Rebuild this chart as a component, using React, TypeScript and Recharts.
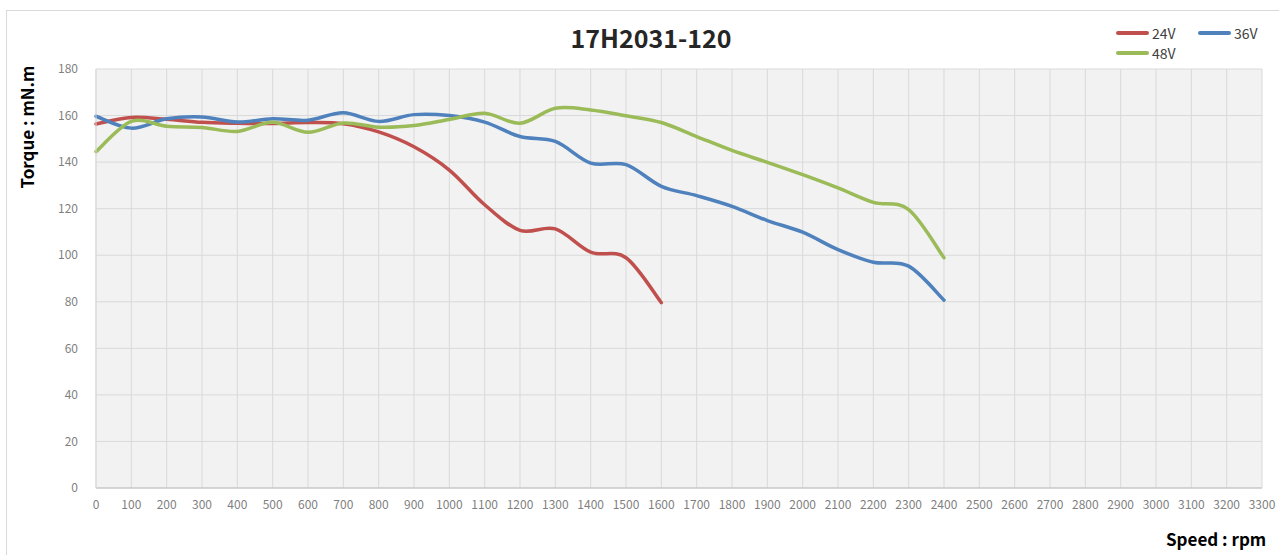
import React from 'react';
import { LineChart, Line, XAxis, YAxis, CartesianGrid } from 'recharts';

const speeds = [0, 100, 200, 300, 400, 500, 600, 700, 800, 900, 1000, 1100, 1200, 1300, 1400, 1500, 1600, 1700, 1800, 1900, 2000, 2100, 2200, 2300, 2400];
const torque24V = [156.4, 159.2, 158.4, 157.1, 156.7, 156.6, 157, 156.5, 153, 146.6, 136.6, 121.7, 110.7, 111.3, 101.3, 98.9, 79.6];
const torque36V = [159.7, 154.6, 158.6, 159.4, 157.2, 158.6, 158, 161.2, 157.5, 160.4, 160, 157.2, 151, 148.9, 139.6, 138.9, 129.6, 125.6, 121, 114.9, 109.9, 102.4, 97, 95.3, 80.7];
const torque48V = [144.5, 157.5, 155.4, 154.9, 153.2, 157.1, 152.8, 156.8, 155, 155.7, 158.3, 161, 156.7, 163.1, 162.4, 159.9, 157, 151, 145, 139.9, 134.6, 128.9, 122.7, 119.6, 98.9];

const xTicks = [0, 100, 200, 300, 400, 500, 600, 700, 800, 900, 1000, 1100, 1200, 1300, 1400, 1500, 1600, 1700, 1800, 1900, 2000, 2100, 2200, 2300, 2400, 2500, 2600, 2700, 2800, 2900, 3000, 3100, 3200, 3300];
const yTicks = [0, 20, 40, 60, 80, 100, 120, 140, 160, 180];

const seriesDefs = [
  { key: 'v24', name: '24V', color: '#C0504D', values: torque24V },
  { key: 'v36', name: '36V', color: '#4F81BD', values: torque36V },
  { key: 'v48', name: '48V', color: '#9BBB59', values: torque48V },
];

const data = speeds.map((s, i) => {
  const row: any = { speed: s };
  seriesDefs.forEach((d) => {
    if (i < d.values.length) row[d.key] = d.values[i];
  });
  return row;
});

// Catmull-Rom style smoothing similar to Excel's smoothed lines
function excelCurve(context: any) {
  let pts: [number, number][] = [];
  return {
    areaStart() {},
    areaEnd() {},
    lineStart() { pts = []; },
    point(x: number, y: number) { pts.push([+x, +y]); },
    lineEnd() {
      if (!pts.length) return;
      context.moveTo(pts[0][0], pts[0][1]);
      for (let i = 0; i < pts.length - 1; i++) {
        const p0 = pts[i - 1] || pts[i];
        const p1 = pts[i];
        const p2 = pts[i + 1];
        const p3 = pts[i + 2] || pts[i + 1];
        const c1x = p1[0] + (p2[0] - p0[0]) / 6;
        const c1y = p1[1] + (p2[1] - p0[1]) / 6;
        const c2x = p2[0] - (p3[0] - p1[0]) / 6;
        const c2y = p2[1] - (p3[1] - p1[1]) / 6;
        context.bezierCurveTo(c1x, c1y, c2x, c2y, p2[0], p2[1]);
      }
    },
  };
}

const FONT = '"Noto Sans CJK SC", "Noto Sans", sans-serif';

function LegendBox() {
  return (
    <div style={{ position: 'absolute', left: 1116, top: 24, width: 170, height: 44, fontFamily: FONT, fontSize: 14, color: '#404040' }}>
      {seriesDefs.map((d, i) => {
        const left = i === 1 ? 82 : 0;
        const top = i === 2 ? 20 : 0;
        return (
          <div key={d.key} style={{ position: 'absolute', left, top, display: 'flex', alignItems: 'center', height: 18 }}>
            <div style={{ width: 33, height: 3.5, background: d.color, borderRadius: 2, marginRight: 3 }} />
            <span>{d.name}</span>
          </div>
        );
      })}
    </div>
  );
}

export default function App() {
  return (
    <div style={{ position: 'absolute', left: 0, top: 0, width: 1279, height: 555, background: '#fff', overflow: 'hidden' }}>
      <div style={{ position: 'absolute', left: 6, top: 10, width: 1290, height: 560, border: '1px solid #D9D9D9', boxSizing: 'border-box' }} />
      <div style={{ position: 'absolute', left: 0, top: 21, width: 1302, textAlign: 'center', fontFamily: FONT, fontWeight: 700, fontSize: 25, color: '#262626', lineHeight: '32px' }}>
        17H2031-120
      </div>
      <div style={{ position: 'absolute', left: 1166, top: 527, fontFamily: FONT, fontWeight: 700, fontSize: 17, color: '#000', lineHeight: '24px', whiteSpace: 'nowrap' }}>
        Speed : rpm
      </div>
      <div style={{ position: 'absolute', left: 27, top: 127, transform: 'translate(-50%, -50%) rotate(-90deg)', fontFamily: FONT, fontWeight: 700, fontSize: 17, color: '#000', lineHeight: '24px', whiteSpace: 'nowrap' }}>
        Torque : mN.m
      </div>
      <LegendBox />
      <div style={{ position: 'absolute', left: 0, top: 0 }}>
        <LineChart width={1279} height={555} data={data} margin={{ top: 69, right: 17, bottom: 37, left: 0 }}>
          <CartesianGrid fill="#F2F2F2" stroke="#D9D9D9" strokeWidth={1} horizontal vertical />
          <XAxis
            dataKey="speed"
            type="number"
            domain={[0, 3300]}
            ticks={xTicks}
            interval={0}
            height={30}
            tickLine={false}
            tickSize={0}
            tickMargin={12}
            axisLine={{ stroke: '#BFBFBF' }}
            tick={{ fill: '#7F7F7F', fontSize: 12, fontFamily: FONT }}
          />
          <YAxis
            type="number"
            domain={[0, 180]}
            ticks={yTicks}
            interval={0}
            width={96}
            tickLine={false}
            tickSize={0}
            tickMargin={18}
            axisLine={{ stroke: '#D9D9D9' }}
            tick={{ fill: '#7F7F7F', fontSize: 12, fontFamily: FONT }}
          />
          {seriesDefs.map((d) => (
            <Line
              key={d.key}
              dataKey={d.key}
              name={d.name}
              type={excelCurve as any}
              stroke={d.color}
              strokeWidth={3.5}
              dot={false}
              activeDot={false}
              strokeLinecap="round"
              connectNulls={false}
              isAnimationActive={false}
            />
          ))}
        </LineChart>
      </div>
    </div>
  );
}
